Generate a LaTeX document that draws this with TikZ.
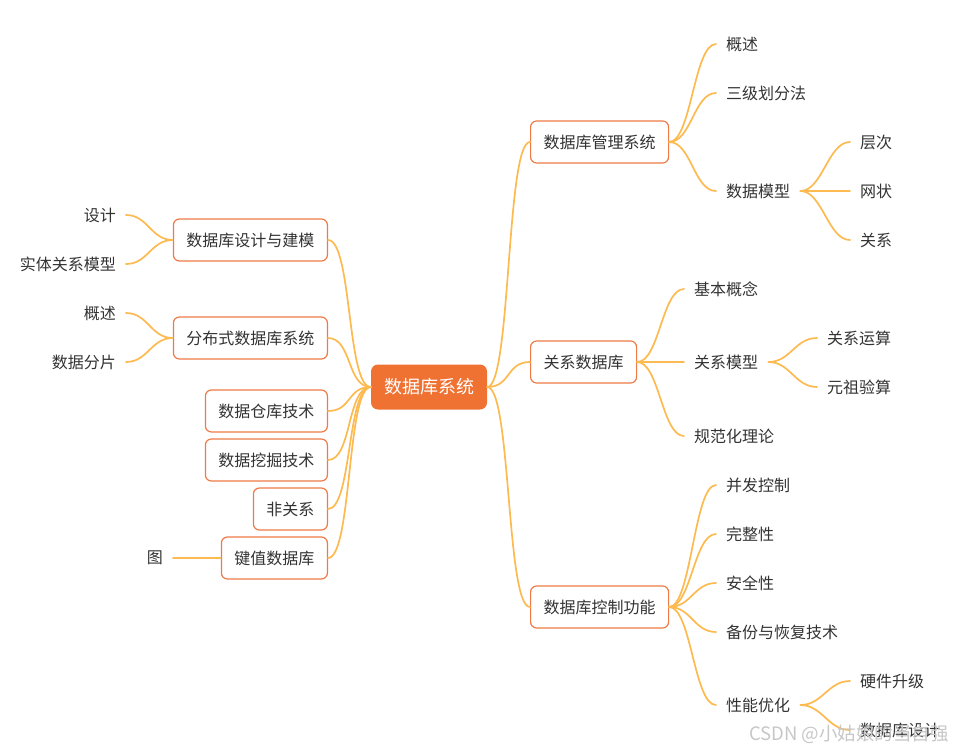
\documentclass[tikz,border=0pt]{standalone}
\usepackage{fontspec}
\newfontfamily\cjk{Noto Sans CJK SC}
\usetikzlibrary{positioning}
\definecolor{topicorange}{HTML}{EF7233}
\definecolor{boxline}{HTML}{EE7A46}
\definecolor{linkyellow}{HTML}{FDBA50}
\definecolor{inkgray}{HTML}{333333}
\tikzset{
	roottopic/.style={fill=topicorange, rounded corners=7pt, text=white, inner sep=0pt,
		font=\cjk\fontsize{18}{20}\selectfont, minimum width=116pt, minimum height=45pt},
	subtopic/.style={draw=boxline, line width=1.2pt, rounded corners=6pt, fill=white, text=inkgray,
		font=\cjk\fontsize{16}{18}\selectfont, inner xsep=13pt, inner ysep=0pt, minimum height=42pt},
	leaftopic/.style={text=inkgray, font=\cjk\fontsize{16}{18}\selectfont, inner xsep=10pt, inner ysep=2pt},
	link/.style={draw=linkyellow, line width=1.7pt, line cap=round},
	toright/.style={out=0, in=180, distance=#1},
	toleft/.style={out=180, in=0, distance=#1}
}
\begin{document}
\begin{tikzpicture}[x=1pt, y=-1pt]
			%%%%% START %%%%%
			\useasboundingbox (0,0) rectangle (956,752);
			
			\node[roottopic] (dbsys) at (429,387) {数据库系统};
			
			% right side
			\node[subtopic, anchor=west] (dbms) at (530,142) {数据库管理系统};
			\node[subtopic, anchor=west] (reldb) at (530,362) {关系数据库};
			\node[subtopic, anchor=west] (ctrl) at (530,607) {数据库控制功能};
			
			\node[leaftopic, anchor=west] (overview) at (716,44) {概述};
			\node[leaftopic, anchor=west] (levels) at (716,93) {三级划分法};
			\node[leaftopic, anchor=west] (datamodel) at (716,191) {数据模型};
			\node[leaftopic, anchor=west] (hier) at (850,142) {层次};
			\node[leaftopic, anchor=west] (net) at (850,191) {网状};
			\node[leaftopic, anchor=west] (rel) at (850,240) {关系};
			
			\node[leaftopic, anchor=west] (basic) at (684,289) {基本概念};
			\node[leaftopic, anchor=west] (relmodel) at (684,362) {关系模型};
			\node[leaftopic, anchor=west] (normal) at (684,436) {规范化理论};
			\node[leaftopic, anchor=west] (relop) at (817,338) {关系运算};
			\node[leaftopic, anchor=west] (tuple) at (817,387) {元祖验算};
			
			\node[leaftopic, anchor=west] (concur) at (716,485) {并发控制};
			\node[leaftopic, anchor=west] (integ) at (716,534) {完整性};
			\node[leaftopic, anchor=west] (secure) at (716,583) {安全性};
			\node[leaftopic, anchor=west] (backup) at (716,632) {备份与恢复技术};
			\node[leaftopic, anchor=west] (perf) at (716,705) {性能优化};
			\node[leaftopic, anchor=west] (hw) at (850,681) {硬件升级};
			\node[leaftopic, anchor=west] (dbdesign) at (850,730) {数据库设计};
			
			% left side
			\node[subtopic, anchor=east] (model) at (328,240) {数据库设计与建模};
			\node[subtopic, anchor=east] (distrib) at (328,338) {分布式数据库系统};
			\node[subtopic, anchor=east] (warehouse) at (328,411) {数据仓库技术};
			\node[subtopic, anchor=east] (mining) at (328,460) {数据挖掘技术};
			\node[subtopic, anchor=east] (nonrel) at (328,509) {非关系};
			\node[subtopic, anchor=east] (kvdb) at (328,558) {键值数据库};
			
			\node[leaftopic, anchor=east] (design) at (126,215) {设计};
			\node[leaftopic, anchor=east] (erm) at (126,264) {实体关系模型};
			\node[leaftopic, anchor=east] (dover) at (126,313) {概述};
			\node[leaftopic, anchor=east] (shard) at (126,362) {数据分片};
			\node[leaftopic, anchor=east] (graph) at (173,558) {图};
			
			% root links
			\foreach \t in {dbms,reldb,ctrl}
				\draw[link] (dbsys.east) to[toright=24pt] (\t.west);
			\foreach \t in {model,distrib,warehouse,mining,nonrel,kvdb}
				\draw[link] (dbsys.west) to[toleft=24pt] (\t.east);
			
			% sub links
			\foreach \t in {overview,levels,datamodel}
				\draw[link] (dbms.east) to[toright=22pt] (\t.west);
			\foreach \t in {hier,net,rel}
				\draw[link] (datamodel.east) to[toright=22pt] (\t.west);
			\foreach \t in {basic,relmodel,normal}
				\draw[link] (reldb.east) to[toright=22pt] (\t.west);
			\foreach \t in {relop,tuple}
				\draw[link] (relmodel.east) to[toright=22pt] (\t.west);
			\foreach \t in {concur,integ,secure,backup,perf}
				\draw[link] (ctrl.east) to[toright=22pt] (\t.west);
			\foreach \t in {hw,dbdesign}
				\draw[link] (perf.east) to[toright=22pt] (\t.west);
			\foreach \t in {design,erm}
				\draw[link] (model.west) to[toleft=22pt] (\t.east);
			\foreach \t in {dover,shard}
				\draw[link] (distrib.west) to[toleft=22pt] (\t.east);
			\draw[link] (kvdb.west) -- (graph.east);
			
			% watermark
			\node[anchor=west, text=black!22, font=\cjk\fontsize{18.5}{20}\selectfont, inner sep=0pt] (mark) at (749,734) {CSDN @小姑娘的当自强};
			
			%%%%% END %%%%%
		\end{tikzpicture}
\end{document}
